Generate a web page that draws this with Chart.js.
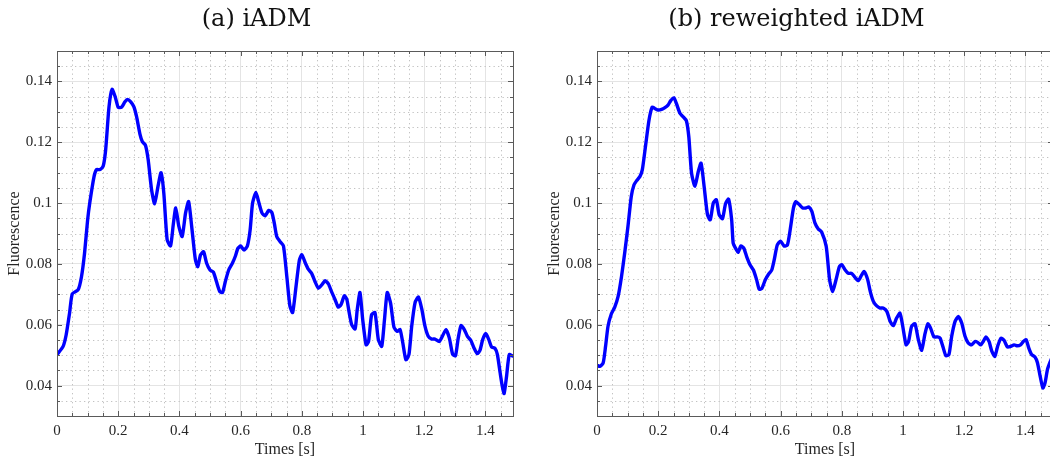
<!DOCTYPE html>
<html>
<head>
<meta charset="utf-8">
<title>Fluorescence traces: iADM vs reweighted iADM</title>
<script src="https://cdn.jsdelivr.net/npm/chart.js@4.4.1/dist/chart.umd.min.js"></script>
<style>
  html, body { margin: 0; padding: 0; background: #ffffff; }
  body { width: 1050px; height: 462px; overflow: hidden; position: relative; }
  .panel { position: absolute; top: 0; width: 525px; height: 462px; }
  #panelA { left: 0; }
  #panelB { left: 540px; }
</style>
</head>
<body>
<div class="panel" id="panelA"><canvas id="chartA" width="525" height="462"></canvas></div>
<div class="panel" id="panelB"><canvas id="chartB" width="525" height="462"></canvas></div>
<script>
// Panel titles
const titleA = '(a) iADM';
const titleB = '(b) reweighted iADM';

// Axis ticks and labels
const xTicks = [0, 0.2, 0.4, 0.6, 0.8, 1, 1.2, 1.4];
const xTickLabels = ['0', '0.2', '0.4', '0.6', '0.8', '1', '1.2', '1.4'];
const yTicks = [0.04, 0.06, 0.08, 0.1, 0.12, 0.14];
const yTickLabels = ['0.04', '0.06', '0.08', '0.1', '0.12', '0.14'];

// (a) iADM trace
const timesA = [
  0.000, 0.020, 0.030, 0.041, 0.050, 0.069, 0.080, 0.090, 0.100, 0.107,
  0.121, 0.129, 0.140, 0.151, 0.159, 0.170, 0.180, 0.190, 0.200, 0.211,
  0.222, 0.230, 0.241, 0.251, 0.260, 0.271, 0.279, 0.289, 0.298, 0.309,
  0.319, 0.330, 0.340, 0.349, 0.360, 0.371, 0.380, 0.388, 0.398, 0.409,
  0.420, 0.430, 0.440, 0.452, 0.460, 0.469, 0.479, 0.489, 0.500, 0.511,
  0.521, 0.532, 0.541, 0.550, 0.561, 0.573, 0.583, 0.591, 0.600, 0.611,
  0.622, 0.631, 0.639, 0.650, 0.660, 0.670, 0.680, 0.692, 0.702, 0.710,
  0.718, 0.729, 0.740, 0.751, 0.761, 0.770, 0.781, 0.792, 0.800, 0.811,
  0.821, 0.832, 0.843, 0.854, 0.865, 0.876, 0.887, 0.897, 0.908, 0.919,
  0.928, 0.939, 0.947, 0.954, 0.963, 0.974, 0.981, 0.990, 0.999, 1.010,
  1.018, 1.028, 1.039, 1.050, 1.061, 1.070, 1.079, 1.090, 1.101, 1.112,
  1.121, 1.130, 1.140, 1.150, 1.159, 1.170, 1.181, 1.192, 1.202, 1.213,
  1.224, 1.235, 1.249, 1.260, 1.271, 1.282, 1.293, 1.302, 1.311, 1.320,
  1.330, 1.341, 1.352, 1.363, 1.373, 1.382, 1.391, 1.401, 1.411, 1.420,
  1.431, 1.439, 1.448, 1.455, 1.461, 1.469, 1.478, 1.491
];
const fluorA = [
  0.0502, 0.0529, 0.0567, 0.0638, 0.0702, 0.0715, 0.0758, 0.0835, 0.0944, 0.1000,
  0.1087, 0.1110, 0.1110, 0.1122, 0.1175, 0.1317, 0.1374, 0.1350, 0.1315, 0.1315,
  0.1333, 0.1341, 0.1333, 0.1317, 0.1284, 0.1227, 0.1202, 0.1190, 0.1142, 0.1044,
  0.0998, 0.1055, 0.1100, 0.1033, 0.0879, 0.0859, 0.0930, 0.0984, 0.0924, 0.0890,
  0.0967, 0.1005, 0.0924, 0.0815, 0.0791, 0.0830, 0.0840, 0.0802, 0.0780, 0.0773,
  0.0742, 0.0709, 0.0706, 0.0742, 0.0780, 0.0802, 0.0826, 0.0851, 0.0859, 0.0846,
  0.0859, 0.0911, 0.1000, 0.1035, 0.1000, 0.0967, 0.0958, 0.0976, 0.0969, 0.0934,
  0.0890, 0.0873, 0.0859, 0.0758, 0.0662, 0.0640, 0.0726, 0.0813, 0.0830, 0.0804,
  0.0783, 0.0769, 0.0742, 0.0720, 0.0731, 0.0745, 0.0734, 0.0709, 0.0684, 0.0658,
  0.0666, 0.0695, 0.0684, 0.0644, 0.0600, 0.0586, 0.0649, 0.0706, 0.0616, 0.0534,
  0.0545, 0.0633, 0.0640, 0.0551, 0.0529, 0.0616, 0.0706, 0.0671, 0.0592, 0.0578,
  0.0584, 0.0540, 0.0485, 0.0502, 0.0595, 0.0673, 0.0691, 0.0651, 0.0597, 0.0562,
  0.0553, 0.0553, 0.0545, 0.0564, 0.0584, 0.0556, 0.0502, 0.0498, 0.0556, 0.0597,
  0.0586, 0.0562, 0.0549, 0.0523, 0.0505, 0.0516, 0.0551, 0.0571, 0.0551, 0.0527,
  0.0523, 0.0502, 0.0442, 0.0398, 0.0374, 0.0431, 0.0502, 0.0496
];

// (b) reweighted iADM trace
const timesB = [
  0.000, 0.009, 0.020, 0.028, 0.036, 0.047, 0.058, 0.069, 0.080, 0.091,
  0.101, 0.112, 0.121, 0.129, 0.140, 0.148, 0.159, 0.170, 0.180, 0.189,
  0.200, 0.211, 0.222, 0.232, 0.241, 0.251, 0.260, 0.271, 0.281, 0.292,
  0.300, 0.309, 0.320, 0.331, 0.340, 0.350, 0.361, 0.370, 0.380, 0.390,
  0.399, 0.410, 0.420, 0.430, 0.440, 0.445, 0.453, 0.461, 0.470, 0.480,
  0.489, 0.500, 0.511, 0.521, 0.530, 0.539, 0.550, 0.561, 0.571, 0.579,
  0.589, 0.600, 0.611, 0.622, 0.631, 0.642, 0.650, 0.661, 0.672, 0.683,
  0.692, 0.702, 0.712, 0.723, 0.734, 0.749, 0.760, 0.770, 0.781, 0.792,
  0.800, 0.811, 0.821, 0.832, 0.843, 0.854, 0.865, 0.873, 0.884, 0.893,
  0.903, 0.914, 0.925, 0.935, 0.947, 0.958, 0.968, 0.979, 0.990, 0.999,
  1.010, 1.018, 1.028, 1.039, 1.050, 1.061, 1.071, 1.081, 1.090, 1.101,
  1.112, 1.121, 1.130, 1.140, 1.150, 1.159, 1.170, 1.181, 1.192, 1.202,
  1.213, 1.224, 1.235, 1.244, 1.254, 1.262, 1.271, 1.281, 1.290, 1.300,
  1.309, 1.320, 1.330, 1.341, 1.352, 1.363, 1.373, 1.384, 1.393, 1.402,
  1.411, 1.420, 1.431, 1.439, 1.448, 1.457, 1.464, 1.472, 1.480, 1.490
];
const fluorB = [
  0.0467, 0.0463, 0.0474, 0.0529, 0.0595, 0.0636, 0.0658, 0.0693, 0.0758, 0.0840,
  0.0922, 0.1022, 0.1060, 0.1073, 0.1087, 0.1109, 0.1191, 0.1273, 0.1315, 0.1311,
  0.1306, 0.1308, 0.1314, 0.1322, 0.1337, 0.1346, 0.1326, 0.1295, 0.1284, 0.1271,
  0.1218, 0.1098, 0.1055, 0.1104, 0.1131, 0.1055, 0.0962, 0.0945, 0.1000, 0.1011,
  0.0962, 0.0949, 0.0998, 0.1013, 0.0945, 0.0868, 0.0851, 0.0838, 0.0859, 0.0851,
  0.0824, 0.0797, 0.0780, 0.0750, 0.0717, 0.0720, 0.0748, 0.0767, 0.0780, 0.0813,
  0.0862, 0.0875, 0.0859, 0.0862, 0.0911, 0.0984, 0.1005, 0.0995, 0.0984, 0.0984,
  0.0987, 0.0973, 0.0935, 0.0915, 0.0905, 0.0857, 0.0748, 0.0709, 0.0748, 0.0791,
  0.0797, 0.0780, 0.0769, 0.0769, 0.0756, 0.0745, 0.0764, 0.0775, 0.0750, 0.0709,
  0.0677, 0.0662, 0.0655, 0.0655, 0.0644, 0.0611, 0.0597, 0.0622, 0.0638, 0.0595,
  0.0534, 0.0545, 0.0595, 0.0603, 0.0551, 0.0516, 0.0567, 0.0603, 0.0589, 0.0560,
  0.0560, 0.0556, 0.0529, 0.0498, 0.0502, 0.0562, 0.0611, 0.0627, 0.0605, 0.0564,
  0.0540, 0.0534, 0.0545, 0.0542, 0.0534, 0.0545, 0.0560, 0.0545, 0.0513, 0.0496,
  0.0529, 0.0556, 0.0549, 0.0527, 0.0529, 0.0534, 0.0531, 0.0534, 0.0545, 0.0551,
  0.0523, 0.0502, 0.0494, 0.0476, 0.0431, 0.0392, 0.0409, 0.0453, 0.0476, 0.0500
];

// Axis extents and grid subdivisions
const X_MIN = 0, X_MAX = 1.49, X_MAJOR = 0.2, X_MINOR = 0.05;
const Y_MIN = 0.03, Y_MAX = 0.15, Y_MAJOR = 0.02, Y_MINOR = 0.005;

const SERIF = "'Liberation Serif', 'Times New Roman', serif";
const TITLE_FONT = "'DejaVu Serif', serif";
const AXIS_TEXT = '#262626';
const FRAME_COLOR = '#5a5a5a';

function stepsBetween(min, max, step) {
  const out = [];
  const k0 = Math.ceil(min / step - 1e-6);
  for (let k = k0; k * step <= max + 1e-9; k++) out.push(k * step);
  return out;
}
function isMultiple(v, step) {
  const r = v / step;
  return Math.abs(r - Math.round(r)) < 1e-6;
}

// Dotted minor grid, box frame and inward tick marks, placed through the chart scales
const framePlugin = {
  id: 'boxFrame',
  beforeDatasetsDraw(chart) {
    const { ctx, chartArea: a, scales: { x, y } } = chart;
    ctx.save();
    ctx.beginPath();
    ctx.rect(a.left, a.top, a.right - a.left, a.bottom - a.top);
    ctx.clip();
    ctx.strokeStyle = '#c2c2c2';
    ctx.lineWidth = 1;
    ctx.setLineDash([1.3, 3.2]);
    ctx.beginPath();
    for (const v of stepsBetween(x.min, x.max, X_MINOR)) {
      if (isMultiple(v, X_MAJOR)) continue;
      const px = Math.round(x.getPixelForValue(v)) + 0.5;
      ctx.moveTo(px, a.top);
      ctx.lineTo(px, a.bottom);
    }
    for (const v of stepsBetween(y.min, y.max, Y_MINOR)) {
      if (isMultiple(v, Y_MAJOR)) continue;
      const py = Math.round(y.getPixelForValue(v)) + 0.5;
      ctx.moveTo(a.left, py);
      ctx.lineTo(a.right, py);
    }
    ctx.stroke();
    ctx.restore();
  },
  afterDatasetsDraw(chart) {
    const { ctx, chartArea: a, scales: { x, y } } = chart;
    ctx.save();
    ctx.strokeStyle = FRAME_COLOR;
    ctx.lineWidth = 1;
    ctx.setLineDash([]);
    ctx.beginPath();
    for (const v of stepsBetween(x.min, x.max, X_MINOR)) {
      const len = isMultiple(v, X_MAJOR) ? 5 : 3;
      const px = Math.round(x.getPixelForValue(v)) + 0.5;
      ctx.moveTo(px, a.bottom); ctx.lineTo(px, a.bottom - len);
      ctx.moveTo(px, a.top); ctx.lineTo(px, a.top + len);
    }
    for (const v of stepsBetween(y.min, y.max, Y_MINOR)) {
      const len = isMultiple(v, Y_MAJOR) ? 5 : 3;
      const py = Math.round(y.getPixelForValue(v)) + 0.5;
      ctx.moveTo(a.left, py); ctx.lineTo(a.left + len, py);
      ctx.moveTo(a.right, py); ctx.lineTo(a.right - len, py);
    }
    ctx.stroke();
    ctx.strokeRect(Math.round(a.left) + 0.5, Math.round(a.top) + 0.5,
                   Math.round(a.right - a.left), Math.round(a.bottom - a.top));
    ctx.restore();
  }
};

function makeChart(canvasId, title, times, values) {
  return new Chart(document.getElementById(canvasId), {
    type: 'line',
    data: {
      datasets: [{
        data: times.map((t, i) => ({ x: t, y: values[i] })),
        borderColor: '#0000ff',
        borderWidth: 3.4,
        pointRadius: 0,
        tension: 0.2,
        fill: false
      }]
    },
    options: {
      responsive: false,
      animation: false,
      layout: { padding: { left: 0, right: 12, top: 0, bottom: 0 } },
      plugins: {
        legend: { display: false },
        tooltip: { enabled: false },
        title: {
          display: true,
          text: title,
          color: '#111111',
          font: { family: TITLE_FONT, size: 24, weight: 'normal' },
          padding: { top: 5.6, bottom: 16.6 }
        }
      },
      scales: {
        x: {
          type: 'linear',
          min: X_MIN,
          max: X_MAX,
          afterBuildTicks: (s) => { s.ticks = xTicks.map(v => ({ value: v })); },
          afterFit: (s) => { s.height = 46; },
          ticks: {
            autoSkip: false,
            maxRotation: 0,
            padding: 6,
            color: AXIS_TEXT,
            font: { family: SERIF, size: 15 },
            callback: (v, i) => xTickLabels[i]
          },
          grid: { color: '#e4e4e4', lineWidth: 1, drawTicks: false },
          border: { display: false },
          title: {
            display: true,
            text: 'Times [s]',
            color: AXIS_TEXT,
            font: { family: SERIF, size: 16 },
            padding: { top: 0, bottom: 2.4 }
          }
        },
        y: {
          type: 'linear',
          min: Y_MIN,
          max: Y_MAX,
          afterBuildTicks: (s) => { s.ticks = yTicks.map(v => ({ value: v })); },
          afterFit: (s) => { s.width = 57; },
          ticks: {
            autoSkip: false,
            padding: 5,
            color: AXIS_TEXT,
            font: { family: SERIF, size: 15 },
            callback: (v, i) => yTickLabels[i]
          },
          grid: { color: '#e4e4e4', lineWidth: 1, drawTicks: false },
          border: { display: false },
          title: {
            display: true,
            text: 'Fluorescence',
            color: AXIS_TEXT,
            font: { family: SERIF, size: 16 },
            padding: { top: 5, bottom: 0 }
          }
        }
      }
    },
    plugins: [framePlugin]
  });
}

makeChart('chartA', titleA, timesA, fluorA);
makeChart('chartB', titleB, timesB, fluorB);
</script>
</body>
</html>
